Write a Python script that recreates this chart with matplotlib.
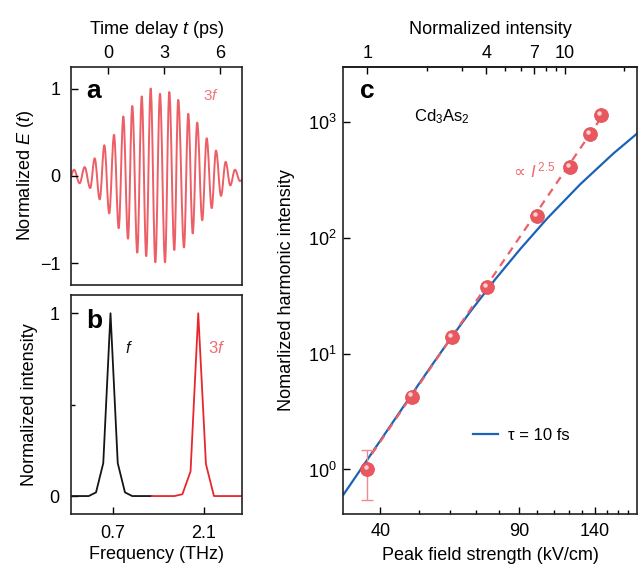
import numpy as np
import matplotlib
matplotlib.use('Agg')
import matplotlib.pyplot as plt
from matplotlib.path import Path
from matplotlib.patches import PathPatch
from matplotlib.ticker import FixedLocator, NullFormatter, FixedFormatter
import matplotlib.transforms as mtransforms

plt.rcParams['font.family'] = ['Liberation Sans', 'DejaVu Sans']
plt.rcParams['mathtext.fontset'] = 'custom'
plt.rcParams['mathtext.rm'] = 'Liberation Sans'
plt.rcParams['mathtext.it'] = 'Liberation Sans:italic'
plt.rcParams['mathtext.bf'] = 'Liberation Sans:bold'
plt.rcParams['axes.linewidth'] = 1.2
plt.rcParams['font.size'] = 13

FS = 13

# ---------------- data ----------------
# panel a: extrema of the 3f waveform (time in ps, normalized field)
wave_t = [-2.07, -1.84, -1.54, -1.27, -0.97, -0.73, -0.46, -0.21, 0.05, 0.31,
          0.56, 0.81, 1.06, 1.29, 1.56, 1.80, 2.04, 2.28, 2.53, 2.78,
          3.05, 3.28, 3.55, 3.76, 4.07, 4.30, 4.54, 4.78, 5.05, 5.29,
          5.56, 5.79, 6.06, 6.31, 6.56, 6.81, 7.08, 7.23]
wave_e = [-0.03, 0.07, -0.085, 0.10, -0.14, 0.20, -0.27, 0.35, -0.43, 0.47,
          -0.60, 0.68, -0.72, 0.80, -0.88, 0.91, -0.92, 1.00, -0.99, 0.94,
          -0.99, 0.96, -0.85, 0.87, -0.82, 0.71, -0.66, 0.61, -0.51, 0.43,
          -0.37, 0.29, -0.23, 0.16, -0.11, 0.07, -0.06, -0.04]

# panel b: spectra
f_freq = [0.056, 0.333, 0.445, 0.556, 0.667, 0.778, 0.889, 1.0, 1.30]
f_int = [0.0, 0.0, 0.02, 0.18, 1.0, 0.18, 0.02, 0.0, 0.0]
h_freq = [1.30, 1.65, 1.77, 1.895, 2.013, 2.131, 2.254, 2.69]
h_int = [0.0, 0.0, 0.01, 0.135, 1.0, 0.175, 0.0, 0.0]

# panel c
field = [37.1, 48.1, 60.8, 74.6, 99.7, 121.0, 135.5, 145.0]
harm = [1.0, 4.25, 13.9, 37.8, 154, 406, 780, 1138]
err_lo = [0.54]
err_hi = [1.46]
fit_field = [38.1, 143.5]
fit_int = [1.36, 1032]
sim_field = [32.3, 40.0, 48.1, 53.5, 60.2, 67.6, 78.2, 90.5, 105.7, 128.4,
             155.8, 179.2]
sim_int = [0.608, 1.77, 4.46, 7.56, 13.4, 23.0, 43.8, 80.0, 146, 290,
           535, 799]

a_xticks = [0, 3, 6]
a_yticks = [-1, 0, 1]
b_xticks = [0.7, 2.1]
c_xticks = [40, 90, 140]
c_xminor = [50, 60, 70, 80, 100, 110, 120, 130, 150, 160, 170]
c_yticks = [1, 10, 100, 1000]
top_ticks = [1, 4, 7, 10]
top_minor = [2, 3, 5, 6, 8, 9, 20]

# ---------------- figure ----------------
fig = plt.figure(figsize=(6.39, 5.66), dpi=100)
ax_a = fig.add_axes([0.1106, 0.4965, 0.2676, 0.3857])
ax_b = fig.add_axes([0.1106, 0.0913, 0.2685, 0.3875])
ax_c = fig.add_axes([0.5368, 0.0913, 0.4605, 0.7909])

for ax in (ax_a, ax_b, ax_c):
    ax.tick_params(direction='in', length=5, width=1.0, labelsize=FS)
    ax.tick_params(which='minor', direction='in', length=3, width=1.0)
    for s in ax.spines.values():
        s.set_color('#222222')

# ---- panel a ----
def smooth_path(ts, vs, k=0.36):
    verts = [(ts[0], vs[0])]
    codes = [Path.MOVETO]
    for i in range(len(ts) - 1):
        dt = ts[i + 1] - ts[i]
        verts += [(ts[i] + k * dt, vs[i]), (ts[i + 1] - k * dt, vs[i + 1]),
                  (ts[i + 1], vs[i + 1])]
        codes += [Path.CURVE4] * 3
    return Path(verts, codes)

ax_a.add_patch(PathPatch(smooth_path(wave_t, wave_e), fill=False,
                         ec='#ec5f66', lw=1.4, joinstyle='round'))
ax_a.set_xlim(-2.02, 7.17)
ax_a.set_ylim(-1.25, 1.25)
ax_a.xaxis.tick_top()
ax_a.xaxis.set_label_position('top')
ax_a.set_xticks(a_xticks)
ax_a.set_yticks(a_yticks)
ax_a.set_yticklabels(['\u22121', '0', '1'])
ax_a.tick_params(axis='x', top=True, bottom=False, pad=3.5)
ax_a.tick_params(axis='y', pad=7.5)
ax_a.set_xlabel('Time delay $t$ (ps)', fontsize=FS, labelpad=8)
ax_a.set_ylabel('Normalized $E$ ($t$)', fontsize=FS, labelpad=2.5)
ax_a.text(0.091, 0.855, 'a', transform=ax_a.transAxes, fontsize=19,
          fontweight='bold', va='baseline', ha='left')
ax_a.text(5.53, 0.87, '3$f$', color='#f07479', fontsize=11, ha='center',
          va='baseline')

# ---- panel b ----
ax_b.plot(f_freq, f_int, color='#151515', lw=1.3)
ax_b.plot(h_freq, h_int, color='#e8262d', lw=1.3)
ax_b.set_xlim(0.056, 2.688)
ax_b.set_ylim(-0.10, 1.10)
ax_b.set_xticks(b_xticks)
ax_b.set_xticklabels(['0.7', '2.1'])
ax_b.set_yticks([0, 1])
ax_b.set_yticks([0.5], minor=True)
ax_b.tick_params(axis='x', pad=7.5)
ax_b.tick_params(axis='y', pad=8)
ax_b.set_xlabel('Frequency (THz)', fontsize=FS, labelpad=3)
ax_b.set_ylabel('Normalized intensity', fontsize=FS, labelpad=8)
ax_b.text(0.091, 0.848, 'b', transform=ax_b.transAxes, fontsize=19,
          fontweight='bold', va='baseline', ha='left')
ax_b.text(0.95, 0.78, '$f$', color='#151515', fontsize=12, ha='center',
          va='baseline')
ax_b.text(2.29, 0.78, '3$f$', color='#ee6d72', fontsize=12, ha='center',
          va='baseline')

# ---- panel c ----
ax_c.set_xscale('log')
ax_c.set_yscale('log')
ax_c.plot(sim_field, sim_int, color='#1c63b7', lw=1.6, label='\u03c4 = 10 fs',
          zorder=2, solid_joinstyle='round')
ax_c.plot(fit_field, fit_int, color='#ec6168', lw=1.6, ls=(0, (3.6, 2.8)),
          zorder=3)
ax_c.errorbar(field[:1], harm[:1],
              yerr=[[harm[0] - err_lo[0]], [err_hi[0] - harm[0]]],
              fmt='none', ecolor='#ef8a8f', elinewidth=1.0, capsize=4.5,
              capthick=1.0, zorder=3)
ax_c.plot(field, harm, 'o', ms=10, color='#e9585f', mec='#e04a52', mew=0.5,
          zorder=4)
hl = ax_c.transData + mtransforms.ScaledTranslation(-1.2 / 72, 1.6 / 72,
                                                     fig.dpi_scale_trans)
ax_c.plot(field, harm, 'o', ms=3.2, color='white', alpha=0.75, mec='none',
          transform=hl, zorder=5)

ax_c.set_xlim(32.2, 179)
ax_c.set_ylim(0.41, 3000)
ax_c.xaxis.set_major_locator(FixedLocator(c_xticks))
ax_c.xaxis.set_major_formatter(FixedFormatter([str(v) for v in c_xticks]))
ax_c.xaxis.set_minor_locator(FixedLocator(c_xminor))
ax_c.xaxis.set_minor_formatter(NullFormatter())
ax_c.yaxis.set_major_locator(FixedLocator(c_yticks))
ax_c.yaxis.set_major_formatter(FixedFormatter(
    [r'$\mathregular{10^{%d}}$' % int(np.log10(v)) for v in c_yticks]))
ax_c.yaxis.set_minor_locator(FixedLocator([]))
ax_c.tick_params(axis='y', pad=4.5)
ax_c.tick_params(axis='x', pad=6)
ax_c.set_xlabel('Peak field strength (kV/cm)', fontsize=FS, labelpad=5)
ax_c.set_ylabel('Nomarlized harmonic intensity', fontsize=FS, labelpad=9.5)

E0 = field[0]
sec = ax_c.secondary_xaxis('top', functions=(lambda e: (e / E0) ** 2,
                                             lambda i: E0 * np.sqrt(i)))
sec.xaxis.set_major_locator(FixedLocator(top_ticks))
sec.xaxis.set_major_formatter(FixedFormatter([str(v) for v in top_ticks]))
sec.xaxis.set_minor_locator(FixedLocator(top_minor))
sec.xaxis.set_minor_formatter(NullFormatter())
sec.tick_params(direction='in', length=5, width=1.0, pad=3.5, labelsize=FS)
sec.tick_params(which='minor', direction='in', length=3, width=1.0)
sec.set_xlabel('Normalized intensity', fontsize=FS, labelpad=8)

ax_c.text(0.058, 0.929, 'c', transform=ax_c.transAxes, fontsize=19,
          fontweight='bold', va='baseline', ha='left')
ax_c.text(48.8, 1009, r'Cd$_3$As$_2$', fontsize=12, va='baseline', ha='left')
ax_c.text(86.5, 333, '\u221d $I^{\\,2.5}$', fontsize=12, color='#ee6b70',
          va='baseline', ha='left', family=['DejaVu Sans'])
ax_c.legend(loc='center left', bbox_to_anchor=(0.443, 0.177), frameon=False,
            fontsize=12, handlelength=1.5, handletextpad=0.6, borderpad=0,
            borderaxespad=0)

fig.savefig('out.png', dpi=100, facecolor='white')
